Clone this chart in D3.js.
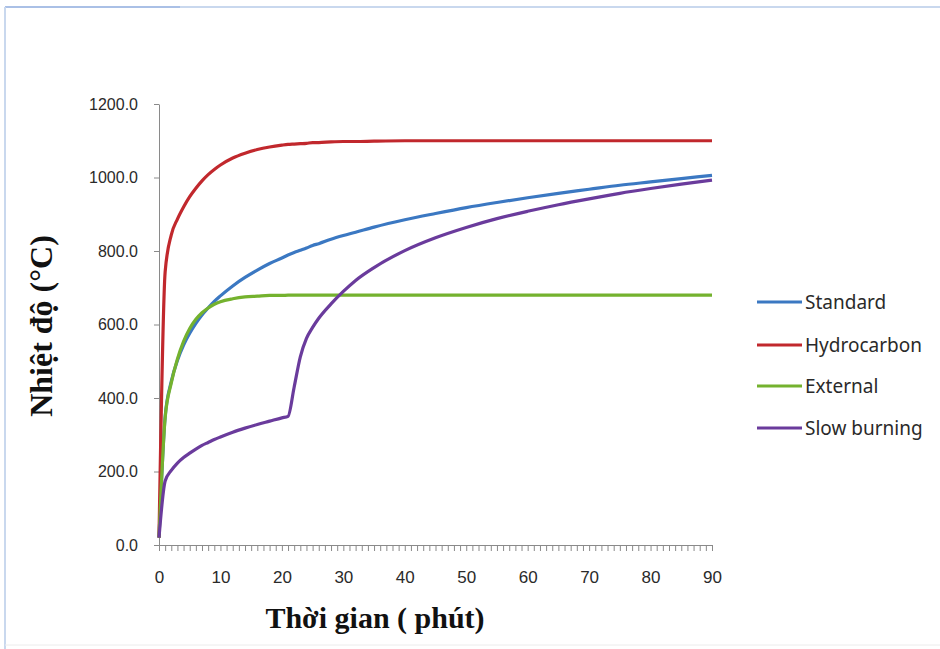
<!DOCTYPE html>
<html>
<head>
<meta charset="utf-8">
<script src="https://cdn.jsdelivr.net/npm/d3@7"></script>
<style>
  body { margin: 0; background: #fff; }
</style>
</head>
<body>
<script>
const minutes = [0,1,2,3,4,5,6,7,8,9,10,12,14,16,18,20,21,22,23,24,25,26,28,30,32,35,40,45,50,55,60,65,70,75,80,85,90];

const standard = [20,349,445,502,544,576,603,626,645,663,678,705,728,748,766,781,789,796,802,808,815,820,832,842,851,865,885,902,918,932,945,957,968,979,988,997,1006];
const hydrocarbon = [20,743,844,887,920,948,971,991,1008,1022,1034,1053,1066,1076,1083,1088,1090,1091,1092,1093,1095,1095,1097,1098,1098,1099,1100,1100,1100,1100,1100,1100,1100,1100,1100,1100,1100];
const external = [20,346,441,506,554,589,614,632,645,655,662,670,675,677,679,679,680,680,680,680,680,680,680,680,680,680,680,680,680,680,680,680,680,680,680,680,680];
const slowBurning = [20,174,203,223,238,250,261,271,279,287,294,307,318,328,337,346,350,430,512,562,592,617,656,690,720,755,801,836,864,888,908,926,942,957,970,982,993];

const seriesNames = ["Standard", "Hydrocarbon", "External", "Slow burning"];
const seriesValues = [standard, hydrocarbon, external, slowBurning];
const seriesColors = ["#3b78c2", "#c1282d", "#74b22e", "#6a3b9c"];

const yTicks = [0,200,400,600,800,1000,1200];
const xLabelTicks = [0,10,20,30,40,50,60,70,80,90];

function main(){
    const width = 940, height = 649;

    const svg = d3.select("body").append("svg")
        .attr("width", width)
        .attr("height", height);

    // frame round the picture
    svg.append("rect").attr("x",0).attr("y",0).attr("width",width).attr("height",height).attr("fill","#fff");
    svg.append("line").attr("x1",5).attr("x2",width).attr("y1",7).attr("y2",7)
        .attr("stroke","#c9d8ee").attr("stroke-width",2);
    svg.append("line").attr("x1",5).attr("x2",180).attr("y1",7).attr("y2",7)
        .attr("stroke","#aac0e6").attr("stroke-width",2);
    svg.append("line").attr("x1",5).attr("x2",5).attr("y1",7).attr("y2",height)
        .attr("stroke","#c9d8ee").attr("stroke-width",2);
    svg.append("line").attr("x1",5).attr("x2",width).attr("y1",645).attr("y2",645)
        .attr("stroke","#ececec").attr("stroke-width",1);

    const x = d3.scaleLinear().domain([0,90]).range([159,712]);
    const y = d3.scaleLinear().domain([0,1200]).range([545,104]);

    const tickFont = "'Liberation Sans', Arial, sans-serif";

    // y axis
    const yAxis = svg.append("g")
        .attr("transform", `translate(${x(0)},0)`)
        .call(d3.axisLeft(y).tickValues(yTicks).tickSize(5).tickSizeOuter(0).tickPadding(16).tickFormat(d3.format(".1f")));
    yAxis.selectAll("text").attr("font-size","16px").attr("font-family",tickFont).attr("fill","#2a2a2a");

    // x axis: one tick per minute, labels every 10
    const xAxis = svg.append("g")
        .attr("transform", `translate(0,${y(0)})`)
        .call(d3.axisBottom(x).tickValues(d3.range(0,91)).tickSize(6).tickSizeOuter(0).tickFormat(""));
    const xLab = svg.append("g")
        .attr("transform", `translate(0,${y(0)})`)
        .call(d3.axisBottom(x).tickValues(xLabelTicks).tickSize(0).tickPadding(26));
    xLab.select(".domain").remove();
    xLab.selectAll("text").attr("font-size","17px").attr("font-family",tickFont).attr("fill","#2a2a2a");

    [yAxis, xAxis].forEach(g => {
        g.selectAll(".domain, .tick line").attr("stroke","#8a8a8a");
    });

    // lines
    const line = d3.line()
        .x((d,i) => x(minutes[i]))
        .y(d => y(d))
        .curve(d3.curveMonotoneX);

    seriesValues.forEach((vals, k) => {
        svg.append("path")
            .datum(vals)
            .attr("fill","none")
            .attr("stroke", seriesColors[k])
            .attr("stroke-width", 3.2)
            .attr("stroke-linejoin","round")
            .attr("d", line);
    });

    // axis titles
    svg.append("text")
        .attr("x", 375).attr("y", 628)
        .attr("text-anchor","middle")
        .attr("font-family","'Liberation Serif', 'Times New Roman', serif")
        .attr("font-weight","bold")
        .attr("font-size","30px")
        .attr("fill","#111")
        .text("Thời gian ( phút)");

    svg.append("text")
        .attr("transform","translate(52,326) rotate(-90)")
        .attr("text-anchor","middle")
        .attr("font-family","'Liberation Serif', 'Times New Roman', serif")
        .attr("font-weight","bold")
        .attr("font-size","32px")
        .attr("fill","#111")
        .text("Nhiệt độ (°C)");

    // legend
    const legendY = [302, 345, 386, 428];
    const legend = svg.append("g");
    seriesNames.forEach((name, k) => {
        legend.append("line")
            .attr("x1",757).attr("x2",802)
            .attr("y1",legendY[k]).attr("y2",legendY[k])
            .attr("stroke",seriesColors[k]).attr("stroke-width",3.2);
        legend.append("text")
            .attr("x",805).attr("y",legendY[k])
            .attr("dy","0.35em")
            .attr("font-family","'Noto Sans', 'Open Sans', sans-serif")
            .attr("font-size","19px")
            .attr("fill","#2a2a2a")
            .text(name);
    });
}
main();
</script>
</body>
</html>
